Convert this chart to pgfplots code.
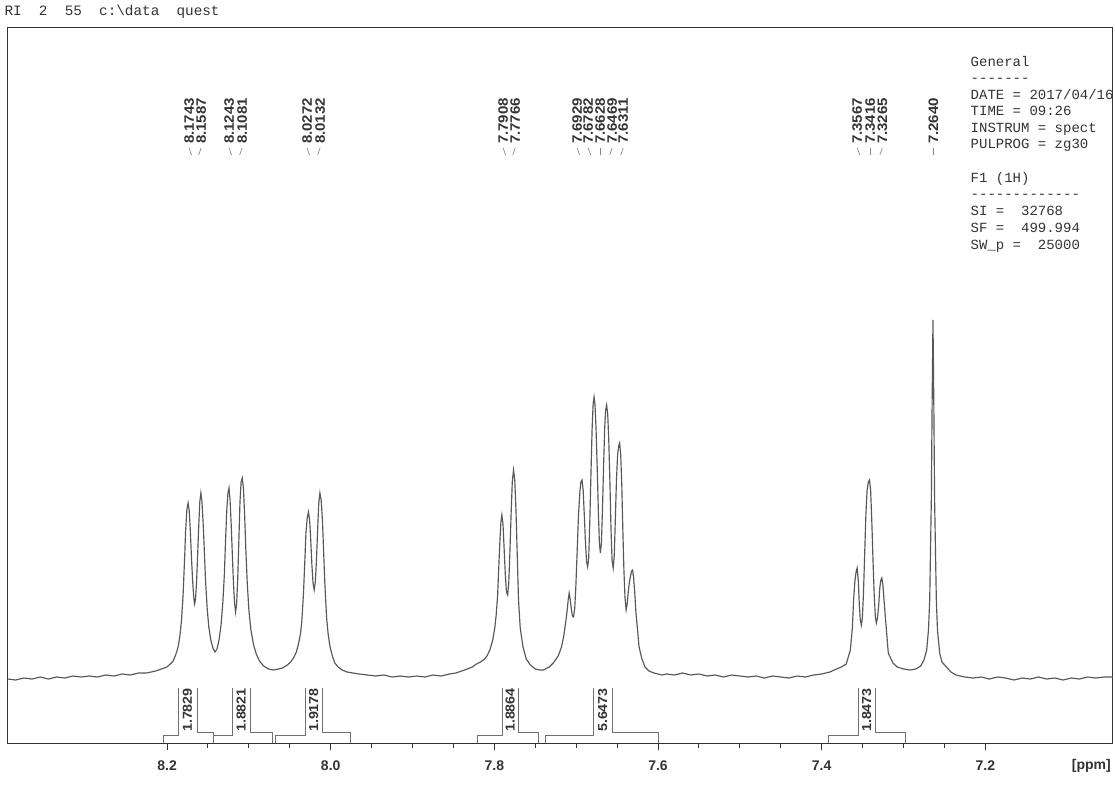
\documentclass[border=0pt]{standalone}
\usepackage{pgfplots}
\pgfplotsset{compat=1.18}
\usepackage{fontspec}
\setmainfont{Liberation Sans}
\setmonofont{Liberation Mono}

\definecolor{ink}{HTML}{333333}
\definecolor{specline}{HTML}{585858}

% rotated shift labels above the peaks
\newcommand{\pk}[1]{\scalebox{1.1}[1]{#1}}
\newcommand{\peaklab}[3]{%
  \node[rotate=90, font=\bfseries\fontsize{8.2}{9}\selectfont, text=ink, inner sep=0pt]
    at (axis cs:#2,559) {\pk{#1}};
  \draw[ink!60, line width=0.4pt] (axis cs:#2,532) -- (axis cs:#3,525);
}
% integral brackets under the baseline
\newcommand{\integ}[6]{%
  \draw[ink!70, line width=0.4pt] (axis cs:#2,-63) -- (axis cs:#2,-55) -- (axis cs:#3,-55) -- (axis cs:#3,-8);
  \draw[ink!70, line width=0.4pt] (axis cs:#4,-8) -- (axis cs:#4,-52) -- (axis cs:#5,-52) -- (axis cs:#5,-63);
  \node[rotate=90, font=\bfseries\fontsize{7.8}{9}\selectfont, text=ink, inner sep=0pt]
    at (axis cs:#6,-30) {\pk{#1}};
}
\newcommand{\info}[2]{%
  \node[anchor=base west, font=\ttfamily\fontsize{8.4}{10}\selectfont, text=ink, inner sep=0pt]
    at (axis cs:7.2183,#1) {#2};
}

\begin{document}
\begin{tikzpicture}
\begin{axis}[
  scale only axis, width=663pt, height=429pt,
  x dir=reverse, xmin=7.044, xmax=8.3944, ymin=-63, ymax=652,
  axis line style={ink, line width=0.6pt},
  xtick={7.2,7.4,7.6,7.8,8.0,8.2}, minor x tick num=3,
  ytick=\empty, xtick pos=left, tick align=outside,
  major tick length=4.2pt, minor tick length=3pt,
  tick style={ink, line width=0.6pt},
  xticklabel={\pgfmathprintnumber[fixed,fixed zerofill,precision=1,assume math mode=true]{\tick}},
  xticklabel style={font=\bfseries\fontsize{8.4}{10}\selectfont, text=ink, yshift=-3pt},
  clip=false,
]
\addplot[specline, line width=0.7pt, mark=none] coordinates {
(8.3944,1) (8.3850,0) (8.3750,2) (8.3650,1) (8.3550,3) (8.3450,1) (8.3350,3) (8.3250,2)
(8.3150,4) (8.3050,3) (8.2950,4) (8.2850,3) (8.2750,5) (8.2650,4) (8.2550,6) (8.2450,5)
(8.2350,7) (8.2250,7) (8.2140,9) (8.2070,11) (8.2003,13) (8.1960,16) (8.1926,19) (8.1895,25)
(8.1865,33) (8.1845,43) (8.1825,58) (8.1804,85) (8.1783,127) (8.1774,148) (8.1758,170) (8.1743,177)
(8.1730,170) (8.1716,150) (8.1703,125) (8.1690,103) (8.1677,86) (8.1665,76) (8.1653,80) (8.1640,97)
(8.1627,123) (8.1614,152) (8.1600,178) (8.1587,187) (8.1573,178) (8.1558,155) (8.1545,130) (8.1530,100)
(8.1510,72) (8.1490,53) (8.1465,40) (8.1440,32) (8.1415,28) (8.1390,31) (8.1365,40) (8.1340,55)
(8.1318,78) (8.1300,105) (8.1285,140) (8.1270,170) (8.1256,187) (8.1243,192) (8.1230,180) (8.1216,155)
(8.1202,125) (8.1189,98) (8.1176,78) (8.1163,68) (8.1150,76) (8.1137,100) (8.1123,138) (8.1109,178)
(8.1095,198) (8.1081,202) (8.1067,192) (8.1052,165) (8.1037,130) (8.1020,97) (8.1000,70) (8.0975,50)
(8.0945,36) (8.0910,26) (8.0870,19) (8.0820,14) (8.0760,11) (8.0700,10) (8.0640,11)
(8.0590,12) (8.0530,15) (8.0490,18) (8.0455,22) (8.0420,28) (8.0394,36) (8.0370,46) (8.0354,58)
(8.0333,86) (8.0312,128) (8.0303,147) (8.0287,162) (8.0272,168) (8.0258,160) (8.0244,140) (8.0230,115)
(8.0216,97) (8.0202,90) (8.0188,98) (8.0174,120) (8.0160,150) (8.0146,177) (8.0132,187) (8.0117,180)
(8.0101,160) (8.0092,140) (8.0071,95) (8.0050,62) (8.0030,45) (8.0010,34) (7.9980,24) (7.9949,17)
(7.9910,13) (7.9860,10) (7.9800,8) (7.9730,7) (7.9650,6)
(7.9550,5) (7.9450,4) (7.9350,5) (7.9250,3) (7.9150,4) (7.9050,3) (7.8950,4) (7.8850,3)
(7.8750,5) (7.8650,4) (7.8550,6) (7.8470,7) (7.8400,9) (7.8330,11) (7.8270,13) (7.8220,16)
(7.8170,18) (7.8120,21) (7.8091,24) (7.8055,30) (7.8020,40) (7.7995,52) (7.7978,65) (7.7960,85)
(7.7945,115) (7.7932,140) (7.7920,158) (7.7908,165) (7.7894,155) (7.7880,130) (7.7866,105) (7.7852,88)
(7.7838,85) (7.7824,97) (7.7810,128) (7.7796,165) (7.7781,198) (7.7766,210) (7.7751,200) (7.7736,170)
(7.7722,130) (7.7705,80) (7.7684,52) (7.7650,33) (7.7610,21) (7.7560,15) (7.7500,11) (7.7440,10)
(7.7400,10) (7.7330,13) (7.7280,17) (7.7220,24) (7.7180,33) (7.7150,45) (7.7125,60) (7.7110,70)
(7.7098,80) (7.7086,87) (7.7072,80) (7.7058,70) (7.7045,64) (7.7032,63) (7.7018,72) (7.7005,92)
(7.6990,125) (7.6972,165) (7.6955,188) (7.6943,198) (7.6929,200) (7.6915,190) (7.6901,165) (7.6887,138)
(7.6873,118) (7.6860,113) (7.6847,122) (7.6834,158) (7.6820,205) (7.6806,250) (7.6794,275) (7.6782,283)
(7.6770,275) (7.6757,250) (7.6743,212) (7.6729,168) (7.6717,138) (7.6705,127) (7.6692,137) (7.6679,170)
(7.6665,215) (7.6652,252) (7.6640,270) (7.6628,275) (7.6615,266) (7.6602,240) (7.6588,198) (7.6575,152)
(7.6562,120) (7.6548,112) (7.6535,124) (7.6522,160) (7.6508,200) (7.6494,225) (7.6481,234) (7.6469,237)
(7.6456,225) (7.6443,195) (7.6430,150) (7.6417,110) (7.6404,83) (7.6390,70) (7.6377,76) (7.6364,88)
(7.6350,98) (7.6336,104) (7.6323,109) (7.6311,110) (7.6298,102) (7.6285,88) (7.6270,67) (7.6250,50)
(7.6232,33) (7.6200,22) (7.6160,13) (7.6110,9) (7.6050,7) (7.6000,6) (7.5950,5)
(7.5900,6) (7.5800,5) (7.5700,7) (7.5600,5) (7.5500,6) (7.5400,4) (7.5300,5) (7.5200,3)
(7.5100,5) (7.5000,4) (7.4900,3) (7.4800,4) (7.4700,2) (7.4600,4) (7.4500,3) (7.4400,2)
(7.4300,4) (7.4200,3) (7.4100,5) (7.4000,6) (7.3900,8) (7.3820,11) (7.3760,13)
(7.3700,16) (7.3650,30) (7.3625,52) (7.3610,80) (7.3595,98) (7.3580,108) (7.3567,112) (7.3553,100)
(7.3540,75) (7.3528,60) (7.3515,55) (7.3503,62) (7.3490,85) (7.3475,125) (7.3460,165) (7.3445,190)
(7.3430,198) (7.3416,200) (7.3402,190) (7.3388,160) (7.3373,120) (7.3358,85) (7.3344,63) (7.3332,57)
(7.3318,62) (7.3303,75) (7.3290,92) (7.3277,100) (7.3265,102) (7.3252,95) (7.3238,80) (7.3222,63)
(7.3186,27) (7.3130,17) (7.3076,13) (7.3000,11) (7.2916,10) (7.2850,11)
(7.2790,14) (7.2750,20) (7.2717,30) (7.2695,50) (7.2680,80) (7.2660,180) (7.2650,280) (7.2640,360)
(7.2630,280) (7.2620,180) (7.2599,80) (7.2585,50) (7.2558,27) (7.2530,18) (7.2476,13) (7.2420,8)
(7.2360,5) (7.2250,3)
(7.2150,2) (7.2050,3) (7.1950,1) (7.1850,3) (7.1750,2) (7.1650,0) (7.1550,2) (7.1450,1)
(7.1350,3) (7.1250,1) (7.1150,2) (7.1050,0) (7.0950,2) (7.0850,1) (7.0750,3) (7.0650,2)
(7.0550,3) (7.0440,3)
};

% peak picking labels
\peaklab{8.1743}{8.1731}{8.1701}
\peaklab{8.1587}{8.1584}{8.1614}
\peaklab{8.1243}{8.1242}{8.1212}
\peaklab{8.1081}{8.1083}{8.1113}
\peaklab{8.0272}{8.0289}{8.0259}
\peaklab{8.0132}{8.0130}{8.0160}
\peaklab{7.7908}{7.7893}{7.7863}
\peaklab{7.7766}{7.7746}{7.7776}
\peaklab{7.6929}{7.6988}{7.6958}
\peaklab{7.6782}{7.6853}{7.6823}
\peaklab{7.6628}{7.6707}{7.6707}
\peaklab{7.6469}{7.6561}{7.6591}
\peaklab{7.6311}{7.6426}{7.6456}
\peaklab{7.3567}{7.3565}{7.3535}
\peaklab{7.3416}{7.3406}{7.3406}
\peaklab{7.3265}{7.3259}{7.3289}
\peaklab{7.2640}{7.2636}{7.2636}

% integrals
\integ{1.7829}{8.2049}{8.1866}{8.1633}{8.1438}{8.1750}
\integ{1.8821}{8.1438}{8.1205}{8.0985}{8.0716}{8.1095}
\integ{1.9178}{8.0680}{8.0313}{8.0105}{7.9763}{8.0209}
\integ{1.8864}{7.8210}{7.7905}{7.7709}{7.7465}{7.7807}
\integ{5.6473}{7.7379}{7.6792}{7.6560}{7.5998}{7.6676}
\integ{1.8473}{7.3919}{7.3553}{7.3345}{7.2978}{7.3449}

% acquisition parameters
\info{613.5}{General}
\info{597.5}{-------}
\info{580.5}{DATE\ =\ 2017/04/16}
\info{564.5}{TIME\ =\ 09:26}
\info{547.5}{INSTRUM\ =\ spect}
\info{531.5}{PULPROG\ =\ zg30}
\info{497.5}{F1\ (1H)}
\info{481.5}{-------------}
\info{464.5}{SI\ =\ \ 32768}
\info{447.5}{SF\ =\ \ 499.994}
\info{430.5}{SW\_p\ =\ \ 25000}

% header line
\node[anchor=base west, font=\ttfamily\fontsize{8.6}{10}\selectfont, text=ink, inner sep=0pt]
  at (axis cs:8.3990,664) {RI\ \ 2\ \ 55\ \ c:\textbackslash data\ \ quest};

\node[anchor=north, font=\bfseries\fontsize{8.4}{10}\selectfont, text=ink, inner sep=0pt]
  at (axis cs:7.0704,-79) {[ppm]};
\end{axis}
\pgfresetboundingbox
\path[use as bounding box] ([xshift=-4.8pt,yshift=-27.6pt]current axis.south west)
  rectangle ([xshift=1.2pt,yshift=16.8pt]current axis.north east);
\end{tikzpicture}
\end{document}
